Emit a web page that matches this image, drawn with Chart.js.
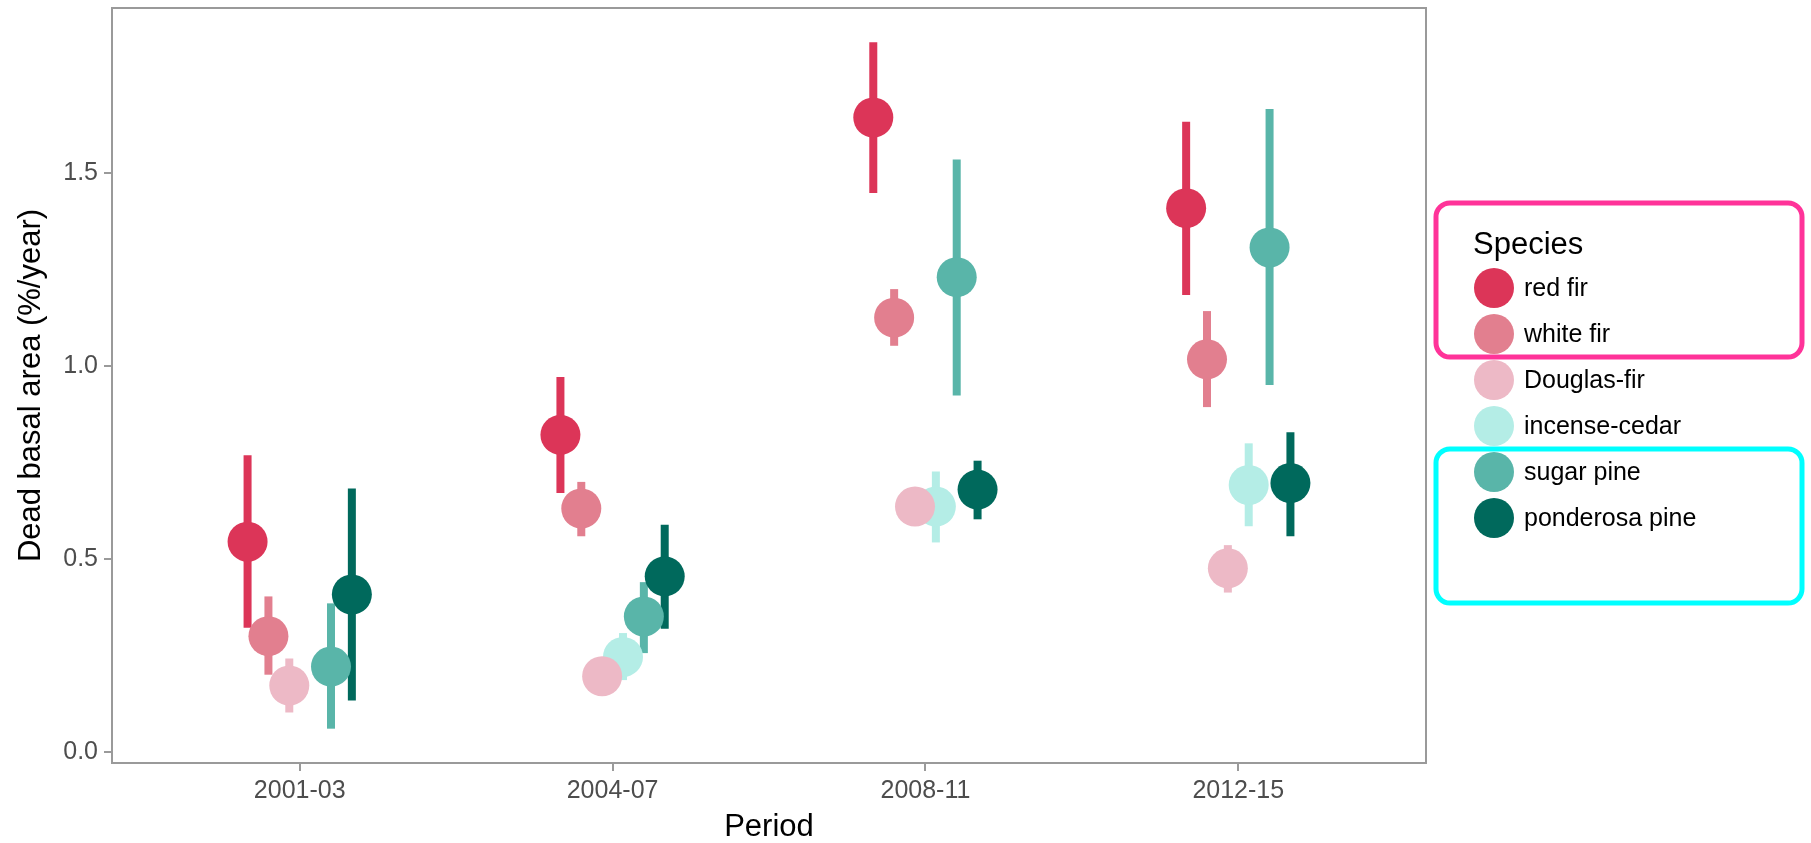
<!DOCTYPE html>
<html>
<head>
<meta charset="utf-8">
<script src="https://cdn.jsdelivr.net/npm/chart.js@4"></script>
<style>
  body { margin: 0; background: #fff; }
  canvas { display: block; }
</style>
</head>
<body>
<canvas id="chart" width="1811" height="843"></canvas>
<script>
var periods = ['2001-03', '2004-07', '2008-11', '2012-15'];
var species = ['red fir', 'white fir', 'Douglas-fir', 'incense-cedar', 'sugar pine', 'ponderosa pine'];
var colors = ['#DC3558', '#E27F8F', '#EDB9C6', '#B4EDE6', '#59B5A9', '#00695C'];
var yTicks = [0, 0.5, 1.0, 1.5];

// dead basal area (%/year): mean and interval per period
var redFirMean = [0.545, 0.822, 1.645, 1.41];
var redFirLow = [0.322, 0.671, 1.449, 1.185];
var redFirHigh = [0.769, 0.972, 1.84, 1.634];
var whiteFirMean = [0.30, 0.631, 1.126, 1.018];
var whiteFirLow = [0.20, 0.559, 1.053, 0.894];
var whiteFirHigh = [0.403, 0.70, 1.20, 1.143];
var douglasMean = [0.172, 0.196, 0.636, 0.476];
var douglasLow = [0.102, 0.17, 0.61, 0.413];
var douglasHigh = [0.242, 0.22, 0.66, 0.536];
var cedarMean = [null, 0.246, 0.636, 0.692];
var cedarLow = [null, 0.186, 0.543, 0.585];
var cedarHigh = [null, 0.308, 0.727, 0.80];
var sugarMean = [0.221, 0.351, 1.231, 1.308];
var sugarLow = [0.06, 0.256, 0.924, 0.951];
var sugarHigh = [0.385, 0.44, 1.536, 1.667];
var ponderosaMean = [0.408, 0.455, 0.68, 0.697];
var ponderosaLow = [0.133, 0.319, 0.603, 0.559];
var ponderosaHigh = [0.683, 0.589, 0.755, 0.829];

var means = [redFirMean, whiteFirMean, douglasMean, cedarMean, sugarMean, ponderosaMean];
var lows = [redFirLow, whiteFirLow, douglasLow, cedarLow, sugarLow, ponderosaLow];
var highs = [redFirHigh, whiteFirHigh, douglasHigh, cedarHigh, sugarHigh, ponderosaHigh];

var FONT = "'Liberation Sans', Arial, sans-serif";
var dodge = 0.4 / species.length;

// y limits like ggplot: 5% expansion of data range
var allLow = [].concat.apply([], lows).filter(function (v) { return v != null; });
var allHigh = [].concat.apply([], highs).filter(function (v) { return v != null; });
var dMin = Math.min.apply(null, allLow), dMax = Math.max.apply(null, allHigh);
var yMin = dMin - 0.05 * (dMax - dMin), yMax = dMax + 0.05 * (dMax - dMin);

var datasets = species.map(function (name, s) {
    var pts = [];
    periods.forEach(function (p, i) {
        if (means[s][i] == null) return;
        pts.push({ x: i + 1 + (s - (species.length - 1) / 2) * dodge, y: means[s][i], lo: lows[s][i], hi: highs[s][i] });
    });
    return {
        label: name,
        data: pts,
        backgroundColor: colors[s],
        borderWidth: 0,
        pointRadius: 20,
        pointHoverRadius: 20
    };
});

// vertical error bars behind the points
var errorBars = {
    id: 'errorBars',
    beforeDatasetsDraw: function (chart) {
        var ctx = chart.ctx, xs = chart.scales.x, ys = chart.scales.y;
        ctx.save();
        ctx.lineWidth = 8;
        chart.data.datasets.forEach(function (ds) {
            ctx.strokeStyle = ds.backgroundColor;
            ds.data.forEach(function (d) {
                var px = xs.getPixelForValue(d.x);
                ctx.beginPath();
                ctx.moveTo(px, ys.getPixelForValue(d.lo));
                ctx.lineTo(px, ys.getPixelForValue(d.hi));
                ctx.stroke();
            });
        });
        ctx.restore();
    }
};

// panel border + legend + highlight boxes
var decorations = {
    id: 'decorations',
    afterDraw: function (chart) {
        var ctx = chart.ctx, a = chart.chartArea;
        ctx.save();
        ctx.strokeStyle = '#9a9a9a';
        ctx.lineWidth = 2;
        ctx.strokeRect(a.left, a.top, a.right - a.left, a.bottom - a.top);

        var mid = (a.top + a.bottom) / 2;
        var step = 46;
        var firstY = mid - 97.5;
        ctx.fillStyle = '#000';
        ctx.textBaseline = 'middle';
        ctx.textAlign = 'left';
        ctx.font = '31px ' + FONT;
        ctx.fillText('Species', a.right + 47, firstY - 43);
        ctx.font = '25px ' + FONT;
        species.forEach(function (name, i) {
            var y = firstY + i * step;
            ctx.fillStyle = colors[i];
            ctx.beginPath();
            ctx.arc(a.right + 68, y, 20, 0, Math.PI * 2);
            ctx.fill();
            ctx.fillStyle = '#000';
            ctx.fillText(name, a.right + 98, y + 1);
        });

        ctx.lineWidth = 5;
        ctx.strokeStyle = '#FF3399';
        ctx.beginPath();
        ctx.roundRect(a.right + 10, firstY - 85, 366, 154, 14);
        ctx.stroke();
        ctx.strokeStyle = '#00FFFF';
        ctx.beginPath();
        ctx.roundRect(a.right + 10, firstY + 161, 366, 154, 14);
        ctx.stroke();
        ctx.restore();
    }
};

function noPad(scale) {
    scale.paddingTop = 0;
    scale.paddingBottom = 0;
    scale.paddingLeft = 0;
    scale.paddingRight = 0;
}

new Chart(document.getElementById('chart'), {
    type: 'scatter',
    data: { datasets: datasets },
    plugins: [errorBars, decorations],
    options: {
        responsive: false,
        animation: false,
        devicePixelRatio: 1,
        events: [],
        layout: { autoPadding: false, padding: { top: 8, right: 385, bottom: 0, left: 0 } },
        plugins: { legend: { display: false }, tooltip: { enabled: false } },
        scales: {
            x: {
                type: 'linear',
                min: 0.4,
                max: periods.length + 0.6,
                afterBuildTicks: function (scale) {
                    scale.ticks = periods.map(function (p, i) { return { value: i + 1 }; });
                },
                afterFit: function (scale) { scale.height = 80; noPad(scale); },
                ticks: {
                    autoSkip: false,
                    maxRotation: 0,
                    padding: 5,
                    color: '#4D4D4D',
                    font: { family: FONT, size: 25 },
                    callback: function (v) { return periods[Math.round(v) - 1]; }
                },
                grid: { drawOnChartArea: false, drawTicks: true, tickLength: 8, color: '#9a9a9a', lineWidth: 2 },
                border: { display: false },
                title: { display: true, text: 'Period', color: '#000', font: { family: FONT, size: 31, lineHeight: 1.0 }, padding: { top: 0, bottom: 0 } }
            },
            y: {
                min: yMin,
                max: yMax,
                afterBuildTicks: function (scale) {
                    scale.ticks = yTicks.map(function (v) { return { value: v }; });
                },
                afterFit: function (scale) { scale.width = 112; noPad(scale); },
                ticks: {
                    padding: 6,
                    color: '#4D4D4D',
                    font: { family: FONT, size: 25 },
                    callback: function (v) { return v.toFixed(1); }
                },
                grid: { drawOnChartArea: false, drawTicks: true, tickLength: 8, color: '#9a9a9a', lineWidth: 2 },
                border: { display: false },
                title: { display: true, text: 'Dead basal area (%/year)', color: '#000', font: { family: FONT, size: 31 }, padding: { top: 13, bottom: 0 } }
            }
        }
    }
});
</script>
</body>
</html>
